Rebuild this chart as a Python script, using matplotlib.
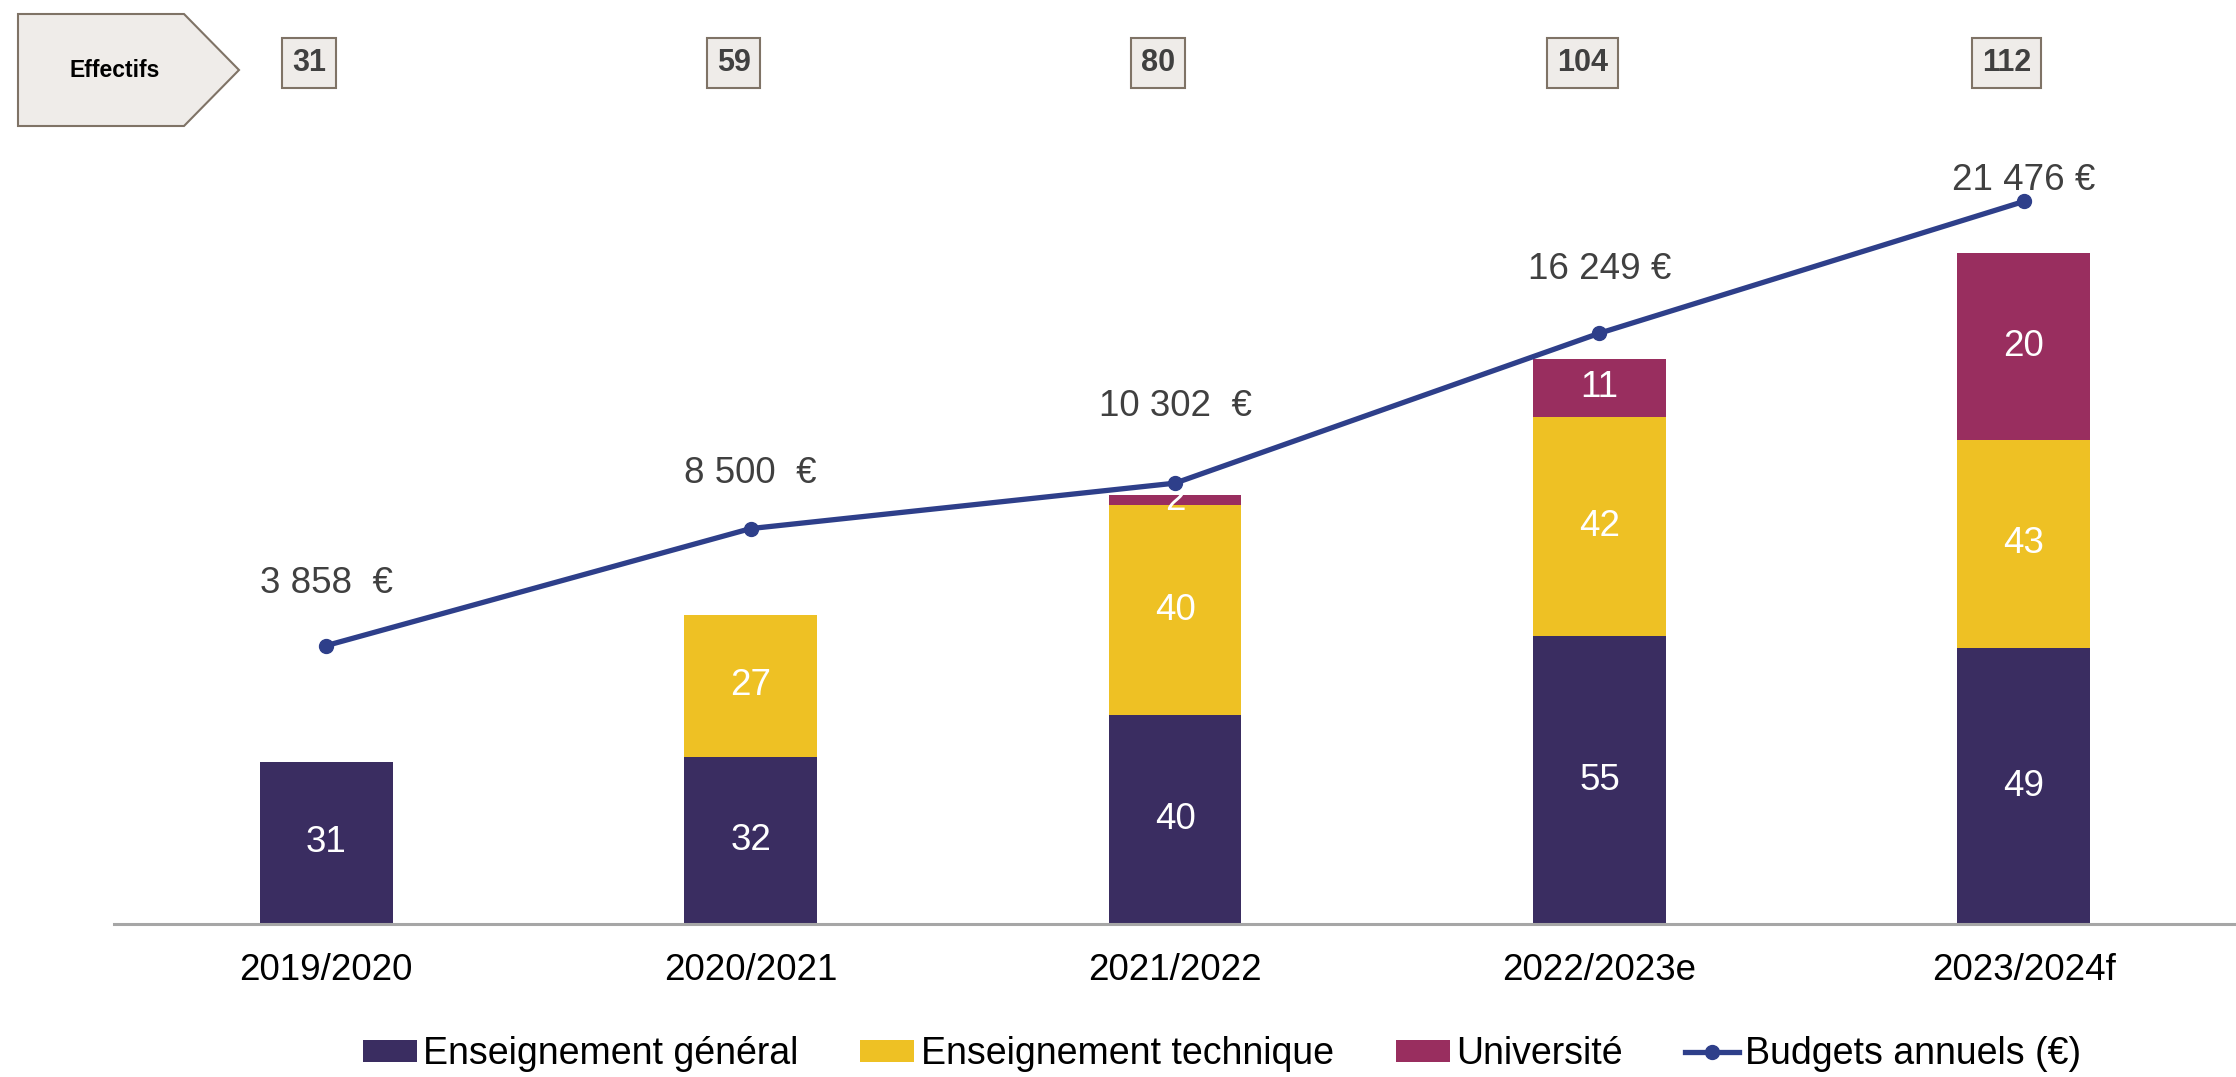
import matplotlib
matplotlib.use("Agg")
import matplotlib.pyplot as plt
import matplotlib.transforms as mtransforms
from matplotlib.patches import Polygon
import numpy as np

plt.rcParams['font.family'] = ['Liberation Sans', 'DejaVu Sans']

years = ['2019/2020', '2020/2021', '2021/2022', '2022/2023e', '2023/2024f']
general = [31, 32, 40, 55, 49]
technique = [0, 27, 40, 42, 43]
universite = [0, 0, 2, 11, 20]
effectifs = [31, 59, 80, 104, 112]
budgets = [3858, 8500, 10302, 16249, 21476]
budget_labels = ['3 858  €', '8 500  €', '10 302  €', '16 249 €', '21 476 €']

# segment heights as drawn in the source: the forecast bar is drawn taller
# than its printed labels
general_h = [31, 32, 40, 55, 52.7]
technique_h = [0, 27, 40, 42, 39.9]
universite_h = [0, 0, 2, 11, 35.6]

series = ['Enseignement général', 'Enseignement technique', 'Université']
colors = ['#3A2D61', '#EEC124', '#992E5F']
line_color = '#2E3F8A'

W, H = 2236, 1077
fig = plt.figure(figsize=(W / 100, H / 100), dpi=100)
ax = fig.add_axes([0.051, 0.1421, 0.949, 0.765])

x = np.arange(len(years))
bottom = np.zeros(len(years))
bars = []
for heights, labels, name, col in zip([general_h, technique_h, universite_h],
                                      [general, technique, universite],
                                      series, colors):
    b = ax.bar(x, heights, width=0.313, bottom=bottom, color=col, label=name)
    bars.append(b)
    for xi, h, b0, lab in zip(x, heights, bottom, labels):
        if lab:
            ax.text(xi, b0 + h / 2, str(lab), ha='center', va='center',
                    color='white', fontsize=26.5)
    bottom += np.array(heights)

ax.set_xlim(-0.5, 4.5)
ax.set_ylim(0, 157.5)
ax.set_xticks(x)
ax.set_xticklabels(years, fontsize=26.5)
ax.tick_params(axis='x', length=0, pad=21)
ax.set_yticks([])
for s in ['left', 'right', 'top']:
    ax.spines[s].set_visible(False)
ax.spines['bottom'].set_color('#A6A6A6')
ax.spines['bottom'].set_linewidth(2.2)

# budgets on a secondary scale
ax2 = ax.twinx()
ax2.set_ylim(-7183, 25498)
ax2.set_yticks([])
for s in ax2.spines.values():
    s.set_visible(False)
line, = ax2.plot(x, budgets, color=line_color, lw=3.8, marker='o', ms=10,
                 label='Budgets annuels (€)', zorder=5)
label_dy = [45, 40, 55, 46, 15]
for xi, v, txt, dy in zip(x, budgets, budget_labels, label_dy):
    ax2.annotate(txt, (xi, v), xytext=(0, dy), textcoords='offset points',
                 ha='center', va='center', fontsize=26.5, color='#404040')

# Effectifs header
arrow = [(18, 14), (184, 14), (239, 70), (184, 126), (18, 126)]
fig.patches.append(Polygon([(px / W, 1 - py / H) for px, py in arrow],
                           closed=True, transform=fig.transFigure,
                           facecolor='#EFECE9', edgecolor='#7F7366', lw=1.5))
fig.text(115 / W, 1 - 70 / H, 'Effectifs', ha='center', va='center',
         fontsize=16.5, fontweight='bold', color='black')

trans = mtransforms.blended_transform_factory(ax.transData, fig.transFigure)
for xi, n in zip(x, effectifs):
    ax.text(xi - 0.04, 1 - 63 / H, str(n), transform=trans, ha='center',
            va='center', fontsize=22, fontweight='bold', color='#404040',
            bbox=dict(boxstyle='square,pad=0.32', fc='#EFECE9', ec='#7F7366',
                      lw=1.5), clip_on=False)

fig.legend(handles=bars + [line], loc='center',
           bbox_to_anchor=(0.5465, 0.021), ncol=4, frameon=False,
           fontsize=27, handlelength=1.44, handleheight=0.53,
           handletextpad=0.17, columnspacing=1.65, borderpad=0)

fig.savefig('out.png', dpi=100)
